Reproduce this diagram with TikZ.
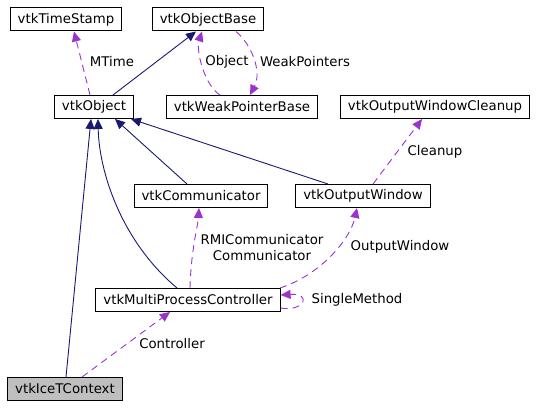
\documentclass[tikz,border=0pt]{standalone}
\usepackage{fontspec}
\setmainfont{DejaVu Sans}
\usetikzlibrary{arrows.meta}
\definecolor{navy}{HTML}{191970}
\definecolor{orchid}{HTML}{9A32CD}
\definecolor{grayfill}{HTML}{BFBFBF}
\begin{document}
\begin{tikzpicture}[x=1pt,y=-1pt,
  box/.style={draw=black, line width=1pt, minimum height=23pt, inner xsep=7.5pt, inner ysep=0pt, font=\fontsize{13.3}{16}\selectfont, fill=white},
  inh/.style={draw=navy, line width=0.9pt, -{Triangle[length=10pt,width=9pt]}},
  use/.style={draw=orchid, line width=0.9pt, dash pattern=on 7pt off 5pt, -{Triangle[length=10pt,width=9pt]}},
  lab/.style={font=\fontsize{13.3}{16}\selectfont, inner sep=0pt, align=center}]
\useasboundingbox (0,0) rectangle (540,409);
\node[box] (ts) at (66,19.5) {vtkTimeStamp};
\node[box] (ob) at (208,19.5) {vtkObjectBase};
\node[box] (obj) at (94,107) {vtkObject};
\node[box] (wpb) at (242,107) {vtkWeakPointerBase};
\node[box] (clean) at (435,107) {vtkOutputWindowCleanup};
\node[box] (comm) at (201,196) {vtkCommunicator};
\node[box] (ow) at (363,196) {vtkOutputWindow};
\node[box] (mpc) at (188,300) {vtkMultiProcessController};
\node[box, fill=grayfill] (icet) at (65,389) {vtkIceTContext};

\draw[inh] ([xshift=19pt]obj.north) -- ([xshift=-12pt]ob.south);
\draw[use] ([xshift=-4pt]obj.north) -- ([xshift=8pt]ts.south);
\node[lab] (lmtime) at (112,62) {MTime};
\draw[use] ([xshift=-22pt]wpb.north) .. controls (204,85) and (196,50) .. ([xshift=-6pt]ob.south);
\node[lab] (lobject) at (227,62) {Object};
\draw[use] ([xshift=28pt]ob.south) .. controls (252,45) and (262,72) .. ([xshift=8pt]wpb.north);
\node[lab] (lweak) at (305,62) {WeakPointers};

\draw[inh] ([xshift=-14pt]comm.north) -- ([xshift=21pt]obj.south);
\draw[inh] ([xshift=-35pt]ow.north) -- ([xshift=37pt]obj.south);
\draw[inh] ([xshift=-11pt]mpc.north) .. controls (120,240) and (99,170) .. ([xshift=4pt]obj.south);
\draw[inh] ([xshift=1pt]icet.north) -- ([xshift=-3pt]obj.south);

\draw[use] ([xshift=10pt]ow.north) -- ([xshift=-13pt]clean.south);
\node[lab] (lclean) at (435,152) {Cleanup};
\draw[use] ([xshift=2pt]mpc.north) .. controls (191,250) and (198,225) .. ([xshift=-2pt]comm.south);
\node[lab] (lrmi) at (262,248) {RMICommunicator\\Communicator};
\draw[use] ([xshift=92pt]mpc.north) .. controls (320,275) and (350,240) .. ([xshift=-6pt]ow.south);
\node[lab] (low) at (400,247) {OutputWindow};
\draw[use] ([yshift=-8pt]mpc.east) .. controls (305,312) and (312,293) .. ([yshift=5pt]mpc.east);
\node[lab] (lsingle) at (357,300) {SingleMethod};
\draw[use] ([xshift=17pt]icet.north) -- ([xshift=-18pt]mpc.south);
\node[lab] (lctrl) at (172,344) {Controller};
\end{tikzpicture}
\end{document}
